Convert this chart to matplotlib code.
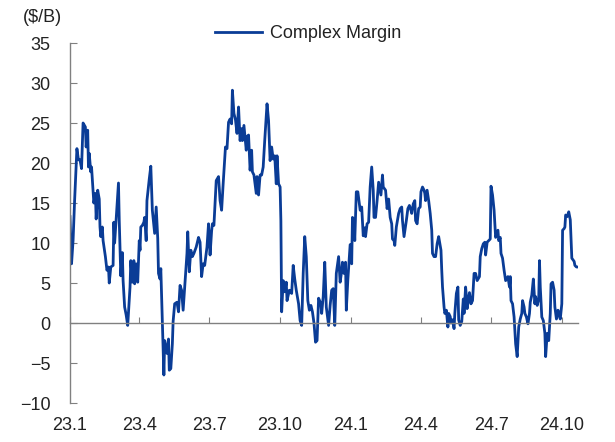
import matplotlib.pyplot as plt
import matplotlib.dates as mdates
import pandas as pd

plt.rcParams['font.family'] = ['Liberation Sans', 'DejaVu Sans']

## complex margin, days counted from 2023-01-01
start = '2023-01-01'
days = [0, 2, 4, 6, 9, 11, 13, 15, 16, 17, 20, 21, 23, 24, 25, 27, 28, 30, 31, 33,
        34, 36, 38, 39, 40, 42, 43, 46, 48, 50, 51, 53, 56, 57, 58, 61, 63, 64, 66, 68,
        69, 71, 73, 75, 78, 79, 81, 83, 84, 86, 88, 90, 91, 92, 94, 96, 97, 99, 100, 103,
        105, 107, 110, 112, 114, 115, 117, 118, 120, 122, 123, 126, 128, 129, 131, 133, 134, 136, 139, 141,
        143, 145, 147, 149, 152, 153, 155, 157, 159, 161, 164, 167, 169, 171, 173, 175, 178, 180, 182, 184,
        185, 187, 190, 193, 195, 197, 199, 202, 204, 206, 208, 210, 211, 213, 215, 217, 219, 221, 223, 224,
        226, 229, 230, 232, 234, 236, 237, 239, 242, 243, 245, 247, 249, 251, 253, 256, 258, 260, 262, 264,
        266, 268, 269, 271, 273, 274, 275, 277, 279, 281, 282, 285, 288, 290, 292, 294, 297, 299, 301, 303,
        305, 307, 309, 311, 313, 315, 317, 319, 321, 323, 326, 327, 329, 331, 333, 336, 338, 340, 342, 344,
        346, 349, 351, 353, 354, 356, 358, 359, 361, 364, 366, 367, 369, 370, 372, 374, 377, 379, 381, 383,
        384, 386, 388, 390, 392, 394, 395, 397, 399, 401, 404, 406, 407, 410, 412, 414, 416, 418, 419, 421,
        422, 424, 427, 429, 431, 432, 434, 437, 439, 441, 443, 444, 446, 448, 449, 451, 453, 455, 456, 458,
        460, 461, 462, 464, 466, 468, 470, 471, 473, 475, 477, 479, 482, 483, 484, 486, 487, 489, 491, 492,
        494, 495, 497, 499, 500, 502, 504, 505, 507, 509, 511, 512, 514, 515, 516, 519, 521, 523, 525, 527,
        529, 532, 533, 535, 537, 539, 540, 542, 544, 546, 547, 549, 551, 553, 556, 557, 559, 560, 562, 564,
        566, 569, 571, 572, 573, 575, 577, 579, 581, 583, 585, 587, 588, 590, 591, 593, 595, 597, 598, 600,
        602, 604, 605, 607, 609, 610, 611, 613, 615, 617, 618, 620, 622, 624, 625, 627, 629, 630, 632, 634,
        636, 637, 639, 640, 642, 643, 644, 646, 648, 650, 651, 652, 655, 656, 658, 660]
margin = [13.3, 7.4, 10.3, 15.3, 21.8, 20.4, 20.4, 19.3, 22.0, 25.0, 24.5, 22.0, 24.1, 19.5, 21.2, 18.9, 19.5, 16.4, 15.0, 16.2,
          13.0, 16.6, 15.5, 12.0, 10.8, 12.0, 10.3, 8.3, 6.6, 7.0, 5.0, 7.0, 7.2, 12.6, 10.0, 14.5, 17.5, 12.8, 5.9, 8.8,
          5.3, 2.0, 1.0, -0.3, 4.5, 7.8, 5.1, 7.8, 4.9, 7.4, 5.1, 10.3, 9.1, 12.0, 12.2, 12.6, 13.2, 10.3, 15.3, 18.0,
          19.6, 14.1, 11.2, 14.5, 10.6, 6.2, 5.5, 6.8, 0.0, -6.5, -2.2, -3.8, -2.0, -5.9, -5.7, -2.6, 0.2, 2.4, 2.6, 1.4,
          4.7, 4.1, 1.6, 4.5, 8.7, 11.4, 6.4, 9.1, 8.3, 8.7, 9.5, 10.7, 10.1, 5.8, 7.4, 7.2, 9.5, 12.4, 8.5, 11.5,
          12.4, 12.2, 17.8, 18.3, 15.3, 14.1, 17.4, 22.0, 21.8, 25.1, 25.5, 24.9, 29.1, 26.2, 25.4, 23.7, 27.0, 22.8, 24.3, 22.8,
          24.7, 21.6, 23.3, 23.5, 19.1, 21.6, 18.9, 18.5, 16.2, 18.3, 16.0, 18.5, 18.5, 19.5, 22.8, 27.4, 25.3, 20.3, 22.0, 20.5,
          20.9, 17.4, 20.9, 17.4, 17.0, 12.8, 1.4, 5.3, 3.9, 5.1, 2.8, 4.1, 3.7, 7.2, 5.5, 4.1, 2.4, 0.3, -0.3, 6.2,
          10.8, 8.3, 2.8, 1.6, 2.2, 1.4, 0.0, -2.4, -2.2, 3.1, 2.4, 1.2, 3.3, 7.6, 2.0, -0.3, 2.2, 4.1, 4.3, -0.3,
          6.2, 8.3, 5.1, 6.5, 7.6, 6.2, 7.6, 1.6, 5.4, 9.8, 7.4, 13.2, 12.8, 10.3, 16.4, 16.4, 14.1, 14.5, 10.9, 11.9,
          10.8, 12.4, 12.6, 17.0, 19.5, 16.6, 13.2, 13.2, 15.3, 17.6, 16.0, 18.5, 17.0, 16.6, 14.3, 15.5, 13.2, 12.4, 10.5, 10.3,
          9.7, 12.0, 13.7, 14.3, 14.5, 12.8, 10.8, 12.8, 14.3, 14.7, 14.1, 13.7, 14.9, 15.3, 12.8, 12.4, 14.3, 14.5, 16.4, 17.0,
          16.6, 16.2, 15.3, 16.6, 15.3, 13.7, 11.6, 8.7, 8.3, 8.3, 9.9, 10.8, 9.1, 6.6, 4.5, 2.0, 1.2, 1.6, -0.5, 1.2,
          0.8, 0.0, 0.4, -0.7, 1.2, 3.7, 4.5, 0.4, -0.3, 0.2, 3.0, 1.2, 4.5, 3.3, 1.8, 3.8, 2.4, 2.8, 6.2, 6.2,
          5.3, 5.8, 8.3, 9.3, 9.9, 10.1, 8.5, 10.1, 10.3, 10.5, 17.1, 16.0, 14.1, 10.7, 11.6, 10.3, 10.7, 8.7, 8.1, 6.6,
          5.3, 5.8, 4.5, 5.8, 2.8, 2.4, 0.75, -2.6, -4.2, -0.5, 0.5, 1.2, 2.8, 2.0, 1.2, 0.75, -0.1, 1.2, 2.6, 3.5,
          5.5, 2.4, 3.3, 2.2, 3.0, 7.8, 4.5, 0.75, 0.3, -1.3, -4.2, -1.3, -2.2, 1.2, 4.9, 5.1, 4.1, 2.0, 0.5, 1.6,
          0.8, 0.5, 2.4, 11.6, 11.8, 12.0, 13.5, 13.3, 13.9, 12.9, 10.4, 8.1, 7.7, 7.2, 7.0, 7.0]

tick_dates = ['2023-01-01', '2023-04-01', '2023-07-01', '2023-10-01',
              '2024-01-01', '2024-04-01', '2024-07-01', '2024-10-01']
tick_labels = ['23.1', '23.4', '23.7', '23.10', '24.1', '24.4', '24.7', '24.10']

dates = pd.Timestamp(start) + pd.to_timedelta(days, unit='D')
ticks = mdates.date2num(pd.to_datetime(tick_dates))

gray = '#808080'
fig = plt.figure(figsize=(6.15, 4.42), dpi=100)
ax = fig.add_axes([0.1138, 0.0882, 0.826, 0.8145])
ax.plot(dates, margin, color='#0a3c96', lw=2.0, label='Complex Margin')

ax.set_ylim(-10, 35)
ax.set_yticks(range(-10, 36, 5))
ax.set_xlim(mdates.date2num(pd.Timestamp(start)), mdates.date2num(dates[-1]))
ax.set_xticks(ticks)

ax.spines['bottom'].set_position(('data', 0))
for s in ['top', 'right']:
    ax.spines[s].set_visible(False)
for s in ['left', 'bottom']:
    ax.spines[s].set_color(gray)
    ax.spines[s].set_linewidth(1.0)
ax.tick_params(axis='x', direction='in', length=4, color=gray, labelbottom=False)
ax.tick_params(axis='y', direction='in', length=5, color=gray, pad=14,
               labelsize=13, labelcolor='#222222')

# labels sit under the plot, not on the zero line
sec = ax.secondary_xaxis('bottom')
sec.set_xticks(ticks)
sec.set_xticklabels(tick_labels)
sec.tick_params(length=0, pad=10, labelsize=13, labelcolor='#222222')
sec.spines['bottom'].set_visible(False)

fig.text(42 / 615, 1 - 18 / 442, '($/B)', ha='center', va='center',
         fontsize=13, color='#222222')
fig.legend(loc='center left', bbox_to_anchor=(215 / 615, 1 - 34 / 442),
           frameon=False, fontsize=13, handlelength=2.6, handletextpad=0.45,
           borderpad=0, borderaxespad=0, labelcolor='#222222')

plt.savefig('out.png', dpi=100)
